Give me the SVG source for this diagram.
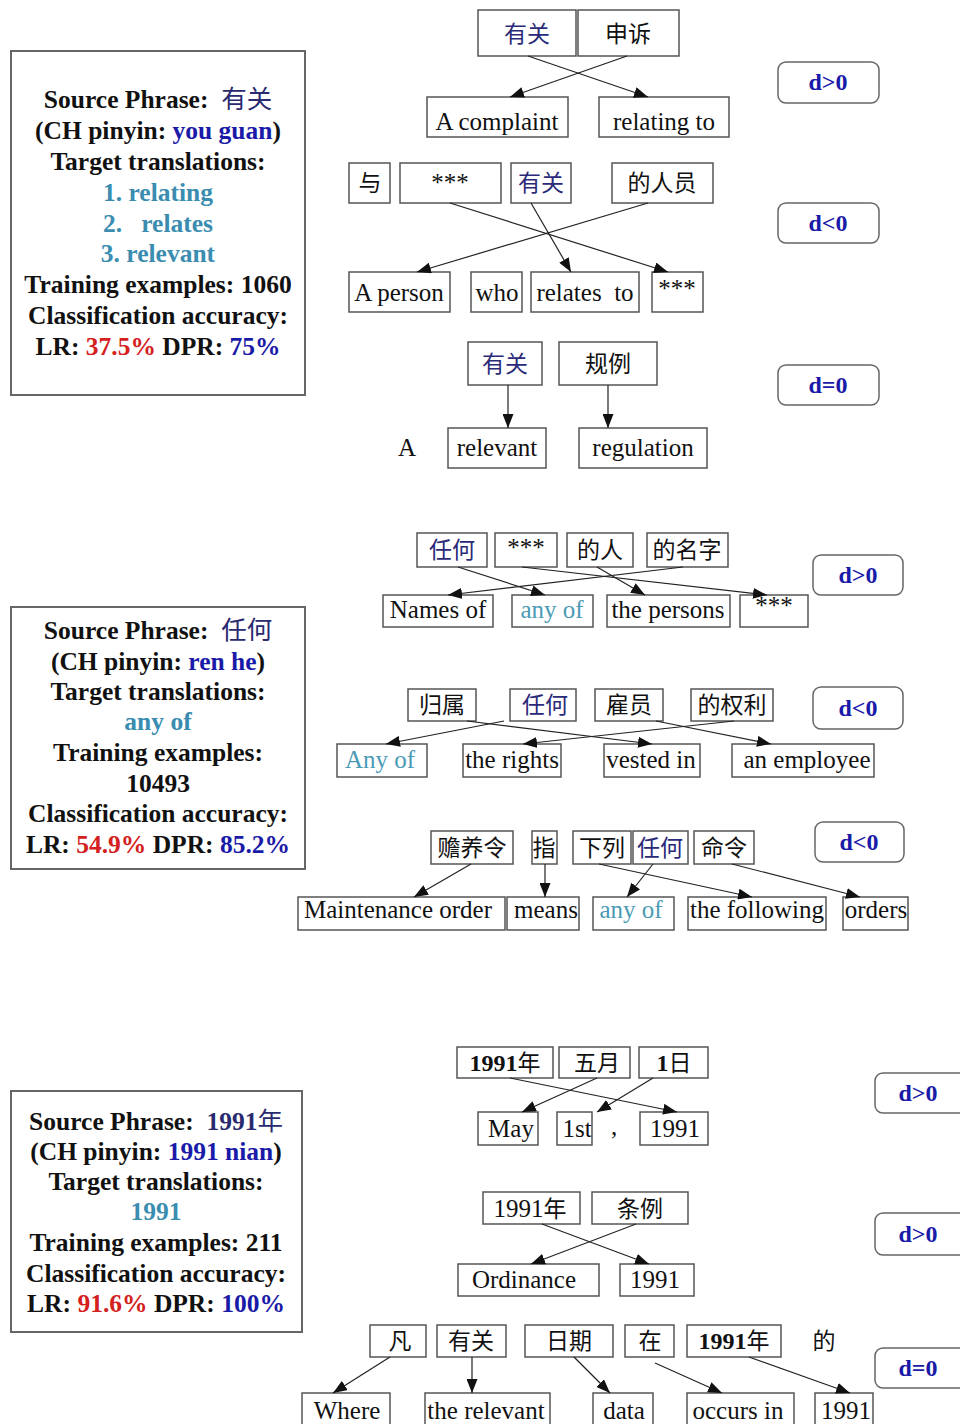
<svg xmlns="http://www.w3.org/2000/svg" width="960" height="1424" viewBox="0 0 960 1424">
<defs>
<marker id="ah" markerUnits="userSpaceOnUse" markerWidth="15" markerHeight="11" refX="14" refY="5.5" orient="auto">
<path d="M0,0 L14,5.5 L0,11 Z" fill="#111"/>
</marker>
<style>
.info{fill:#fff;stroke:#666;stroke-width:2}
.it{font-family:"Liberation Serif","Noto Sans CJK SC",serif;font-weight:bold;font-size:25.5px;text-anchor:middle;fill:#111}
.cj{font-family:"Noto Sans CJK SC",sans-serif;font-weight:normal;fill:#2a2a70}
.py{fill:#1a1aa8}
.tr{fill:#3a8db0}
.red{fill:#d42020}
.blu{fill:#1a1aa8}
.nb{fill:#fff;stroke:#555;stroke-width:1.5}
.nt{font-family:"Liberation Serif","Noto Sans CJK SC",serif;font-size:25px;text-anchor:middle;fill:#111}
.ns{font-size:24px}
.cn{font-family:"Noto Sans CJK SC",sans-serif;font-size:23px}
.nv{fill:#2a2a78}
.tl{fill:#4a9ab5}
.bd{font-weight:bold}
.db{fill:#fff;stroke:#666;stroke-width:1.5}
.dt{font-family:"Liberation Serif",serif;font-weight:bold;font-size:24px;text-anchor:middle;fill:#1a1aa8}
.ed{stroke:#222;stroke-width:1.2;fill:none;marker-end:url(#ah)}
</style>
</defs>
<rect width="960" height="1424" fill="#fff"/>

<!-- info boxes -->
<g id="info1">
<rect class="info" x="11" y="51" width="294" height="344"/>
<text class="it" x="158" y="108" xml:space="preserve">Source Phrase:  <tspan class="cj">有关</tspan></text>
<text class="it" x="158" y="139">(CH pinyin: <tspan class="py">you guan</tspan>)</text>
<text class="it" x="158" y="170">Target translations:</text>
<text class="it tr" x="158" y="201">1. relating</text>
<text class="it tr" x="158" y="232" xml:space="preserve">2.   relates</text>
<text class="it tr" x="158" y="262">3. relevant</text>
<text class="it" x="158" y="293">Training examples: 1060</text>
<text class="it" x="158" y="324">Classification accuracy:</text>
<text class="it" x="158" y="355">LR: <tspan class="red">37.5%</tspan> DPR: <tspan class="blu">75%</tspan></text>
</g>
<g id="info2">
<rect class="info" x="11" y="607" width="294" height="262"/>
<text class="it" x="158" y="639" xml:space="preserve">Source Phrase:  <tspan class="cj">任何</tspan></text>
<text class="it" x="158" y="670">(CH pinyin: <tspan class="py">ren he</tspan>)</text>
<text class="it" x="158" y="700">Target translations:</text>
<text class="it tr" x="158" y="730">any of</text>
<text class="it" x="158" y="761">Training examples:</text>
<text class="it" x="158" y="792">10493</text>
<text class="it" x="158" y="822">Classification accuracy:</text>
<text class="it" x="158" y="853">LR: <tspan class="red">54.9%</tspan> DPR: <tspan class="blu">85.2%</tspan></text>
</g>
<g id="info3">
<rect class="info" x="11" y="1091" width="291" height="241"/>
<text class="it" x="156" y="1130" xml:space="preserve">Source Phrase:  <tspan fill="#2a2a70">1991</tspan><tspan class="cj">年</tspan></text>
<text class="it" x="156" y="1160">(CH pinyin: <tspan class="py">1991 nian</tspan>)</text>
<text class="it" x="156" y="1190">Target translations:</text>
<text class="it tr" x="156" y="1220">1991</text>
<text class="it" x="156" y="1251">Training examples: 211</text>
<text class="it" x="156" y="1282">Classification accuracy:</text>
<text class="it" x="156" y="1312">LR: <tspan class="red">91.6%</tspan> DPR: <tspan class="blu">100%</tspan></text>
</g>

<!-- d labels -->
<g id="d1"><rect class="db" x="778" y="62" width="101" height="41" rx="8"/><text class="dt" x="828" y="90">d&gt;0</text></g>
<g id="d2"><rect class="db" x="778" y="203" width="101" height="40" rx="8"/><text class="dt" x="828" y="231">d&lt;0</text></g>
<g id="d3"><rect class="db" x="778" y="365" width="101" height="40" rx="8"/><text class="dt" x="828" y="393">d=0</text></g>
<g id="d4"><rect class="db" x="813" y="555" width="90" height="40" rx="8"/><text class="dt" x="858" y="583">d&gt;0</text></g>
<g id="d5"><rect class="db" x="813" y="687" width="90" height="42" rx="8"/><text class="dt" x="858" y="716">d&lt;0</text></g>
<g id="d6"><rect class="db" x="815" y="822" width="89" height="40" rx="8"/><text class="dt" x="859" y="850">d&lt;0</text></g>
<g id="d7"><rect class="db" x="875" y="1073" width="92" height="40" rx="8"/><text class="dt" x="918" y="1101">d&gt;0</text></g>
<g id="d8"><rect class="db" x="875" y="1213" width="92" height="42" rx="8"/><text class="dt" x="918" y="1242">d&gt;0</text></g>
<g id="d9"><rect class="db" x="875" y="1348" width="92" height="40" rx="8"/><text class="dt" x="918" y="1376">d=0</text></g>

<!-- Section 1a -->
<g id="a1"><rect class="nb" x="478" y="10" width="98" height="46"/><text class="nt cn nv" x="527" y="42">有关</text></g>
<g id="a2"><rect class="nb" x="578" y="10" width="101" height="46"/><text class="nt cn" x="628" y="42">申诉</text></g>
<g id="a3"><rect class="nb" x="427" y="97" width="141" height="40"/><text class="nt" x="497" y="130">A complaint</text></g>
<g id="a4"><rect class="nb" x="599" y="97" width="130" height="40"/><text class="nt" x="664" y="130">relating to</text></g>

<!-- Section 1b -->
<g id="b1"><rect class="nb" x="349" y="163" width="41" height="40"/><text class="nt cn" x="370" y="191">与</text></g>
<g id="b2"><rect class="nb" x="400" y="163" width="101" height="40"/><text class="nt" x="450" y="191">***</text></g>
<g id="b3"><rect class="nb" x="511" y="163" width="60" height="40"/><text class="nt cn nv" x="541" y="191">有关</text></g>
<g id="b4"><rect class="nb" x="612" y="163" width="101" height="40"/><text class="nt cn" x="662" y="191">的人员</text></g>
<g id="b5"><rect class="nb" x="349" y="272" width="101" height="40"/><text class="nt" x="399" y="301">A person</text></g>
<g id="b6"><rect class="nb" x="471" y="272" width="51" height="40"/><text class="nt" x="497" y="301">who</text></g>
<g id="b7"><rect class="nb" x="531" y="272" width="108" height="40"/><text class="nt" x="585" y="301" xml:space="preserve">relates  to</text></g>
<g id="b8"><rect class="nb" x="652" y="272" width="51" height="40"/><text class="nt" x="677" y="297">***</text></g>

<!-- Section 1c -->
<g id="c1"><rect class="nb" x="468" y="342" width="74" height="43"/><text class="nt cn nv" x="505" y="372">有关</text></g>
<g id="c2"><rect class="nb" x="559" y="342" width="98" height="43"/><text class="nt cn" x="608" y="372">规例</text></g>
<text class="nt" x="407" y="456">A</text>
<g id="c3"><rect class="nb" x="448" y="428" width="98" height="40"/><text class="nt" x="497" y="456">relevant</text></g>
<g id="c4"><rect class="nb" x="579" y="428" width="128" height="40"/><text class="nt" x="643" y="456">regulation</text></g>

<!-- Section 2a -->
<g id="e1"><rect class="nb" x="417" y="533" width="70" height="34"/><text class="nt cn nv" x="452" y="558">任何</text></g>
<g id="e2"><rect class="nb" x="495" y="533" width="62" height="34"/><text class="nt" x="526" y="556">***</text></g>
<g id="e3"><rect class="nb" x="567" y="533" width="66" height="34"/><text class="nt cn" x="600" y="558">的人</text></g>
<g id="e4"><rect class="nb" x="647" y="533" width="81" height="34"/><text class="nt cn" x="687" y="558">的名字</text></g>
<g id="e5"><rect class="nb" x="383" y="595" width="110" height="32"/><text class="nt" x="438" y="618">Names of</text></g>
<g id="e6"><rect class="nb" x="512" y="595" width="81" height="32"/><text class="nt tl" x="552" y="618">any of</text></g>
<g id="e7"><rect class="nb" x="607" y="595" width="123" height="32"/><text class="nt" x="668" y="618">the persons</text></g>
<g id="e8"><rect class="nb" x="740" y="595" width="68" height="32"/><text class="nt" x="774" y="614">***</text></g>

<!-- Section 2b -->
<g id="f1"><rect class="nb" x="408" y="689" width="68" height="32"/><text class="nt cn" x="442" y="713">归属</text></g>
<g id="f2"><rect class="nb" x="510" y="689" width="66" height="32"/><text class="nt cn nv" x="545" y="713">任何</text></g>
<g id="f3"><rect class="nb" x="595" y="689" width="68" height="32"/><text class="nt cn" x="629" y="713">雇员</text></g>
<g id="f4"><rect class="nb" x="691" y="689" width="82" height="32"/><text class="nt cn" x="732" y="713">的权利</text></g>
<g id="f5"><rect class="nb" x="337" y="744" width="90" height="33"/><text class="nt tl" x="380" y="768">Any of</text></g>
<g id="f6"><rect class="nb" x="463" y="744" width="98" height="33"/><text class="nt" x="512" y="768">the rights</text></g>
<g id="f7"><rect class="nb" x="604" y="744" width="96" height="33"/><text class="nt" x="651" y="768">vested in</text></g>
<g id="f8"><rect class="nb" x="732" y="744" width="142" height="33"/><text class="nt" x="807" y="768">an employee</text></g>

<!-- Section 2c -->
<g id="g1"><rect class="nb" x="431" y="831" width="82" height="33"/><text class="nt cn" x="472" y="856">赡养令</text></g>
<g id="g2"><rect class="nb" x="532" y="831" width="25" height="33"/><text class="nt cn" x="544" y="856">指</text></g>
<g id="g3"><rect class="nb" x="573" y="831" width="58" height="33"/><text class="nt cn" x="602" y="856">下列</text></g>
<g id="g4"><rect class="nb" x="633" y="831" width="55" height="33"/><text class="nt cn nv" x="660" y="856">任何</text></g>
<g id="g5"><rect class="nb" x="694" y="831" width="60" height="33"/><text class="nt cn" x="724" y="856">命令</text></g>
<g id="g6"><rect class="nb" x="298" y="897" width="207" height="33"/><text class="nt" x="398" y="918">Maintenance order</text></g>
<g id="g7"><rect class="nb" x="507" y="897" width="72" height="33"/><text class="nt" x="546" y="918">means</text></g>
<g id="g8"><rect class="nb" x="593" y="897" width="81" height="33"/><text class="nt tl" x="631" y="918">any of</text></g>
<g id="g9"><rect class="nb" x="688" y="897" width="138" height="33"/><text class="nt" x="757" y="918">the following</text></g>
<g id="g10"><rect class="nb" x="843" y="897" width="65" height="33"/><text class="nt" x="876" y="918">orders</text></g>

<!-- Section 3a -->
<g id="h1"><rect class="nb" x="457" y="1047" width="96" height="31"/><text class="nt ns" x="505" y="1071"><tspan class="bd">1991</tspan><tspan class="cn">年</tspan></text></g>
<g id="h2"><rect class="nb" x="559" y="1047" width="71" height="31"/><text class="nt cn" x="597" y="1071">五月</text></g>
<g id="h3"><rect class="nb" x="639" y="1047" width="69" height="31"/><text class="nt ns" x="674" y="1071"><tspan class="bd">1</tspan><tspan class="cn">日</tspan></text></g>
<g id="h4"><rect class="nb" x="478" y="1112" width="60" height="33"/><text class="nt" x="511" y="1137">May</text></g>
<g id="h5"><rect class="nb" x="557" y="1112" width="35" height="33"/><text class="nt" x="577" y="1137">1st</text></g>
<text class="nt" x="614" y="1135">,</text>
<g id="h6"><rect class="nb" x="640" y="1112" width="68" height="33"/><text class="nt" x="675" y="1137">1991</text></g>

<!-- Section 3b -->
<g id="k1"><rect class="nb" x="483" y="1192" width="97" height="32"/><text class="nt" x="530" y="1217">1991<tspan class="cn">年</tspan></text></g>
<g id="k2"><rect class="nb" x="592" y="1192" width="96" height="32"/><text class="nt cn" x="640" y="1217">条例</text></g>
<g id="k3"><rect class="nb" x="458" y="1264" width="141" height="32"/><text class="nt" x="524" y="1288">Ordinance</text></g>
<g id="k4"><rect class="nb" x="620" y="1264" width="74" height="32"/><text class="nt" x="655" y="1288">1991</text></g>

<!-- Section 3c -->
<g id="m1"><rect class="nb" x="370" y="1325" width="56" height="32"/><text class="nt cn" x="400" y="1349">凡</text></g>
<g id="m2"><rect class="nb" x="437" y="1325" width="69" height="32"/><text class="nt cn" x="471" y="1349">有关</text></g>
<g id="m3"><rect class="nb" x="525" y="1325" width="88" height="32"/><text class="nt cn" x="569" y="1349">日期</text></g>
<g id="m4"><rect class="nb" x="625" y="1325" width="49" height="32"/><text class="nt cn" x="650" y="1349">在</text></g>
<g id="m5"><rect class="nb" x="687" y="1325" width="94" height="32"/><text class="nt ns" x="734" y="1349"><tspan class="bd">1991</tspan><tspan class="cn">年</tspan></text></g>
<text class="nt cn" x="824" y="1349">的</text>
<g id="m6"><rect class="nb" x="302" y="1393" width="88" height="40"/><text class="nt" x="347" y="1419">Where</text></g>
<g id="m7"><rect class="nb" x="425" y="1393" width="125" height="40"/><text class="nt" x="486" y="1419">the relevant</text></g>
<g id="m8"><rect class="nb" x="593" y="1393" width="60" height="40"/><text class="nt" x="624" y="1419">data</text></g>
<g id="m9"><rect class="nb" x="687" y="1393" width="107" height="40"/><text class="nt" x="738" y="1419">occurs in</text></g>
<g id="m10"><rect class="nb" x="815" y="1393" width="58" height="40"/><text class="nt" x="846" y="1419">1991</text></g>

<!-- connectors -->
<g id="connectors">
<line class="ed" x1="528" y1="56" x2="648" y2="97"/>
<line class="ed" x1="627" y1="56" x2="510" y2="97"/>
<line class="ed" x1="450" y1="203" x2="668" y2="272"/>
<line class="ed" x1="531" y1="203" x2="571" y2="272"/>
<line class="ed" x1="648" y1="203" x2="417" y2="272"/>
<line class="ed" x1="508" y1="385" x2="508" y2="428"/>
<line class="ed" x1="608" y1="385" x2="608" y2="428"/>
<line class="ed" x1="458" y1="567" x2="545" y2="595"/>
<line class="ed" x1="522" y1="567" x2="767" y2="595"/>
<line class="ed" x1="597" y1="567" x2="645" y2="595"/>
<line class="ed" x1="683" y1="567" x2="448" y2="595"/>
<line class="ed" x1="504" y1="721" x2="386" y2="744"/>
<line class="ed" x1="467" y1="721" x2="652" y2="744"/>
<line class="ed" x1="734" y1="721" x2="523" y2="744"/>
<line class="ed" x1="656" y1="721" x2="771" y2="744"/>
<line class="ed" x1="471" y1="864" x2="414" y2="897"/>
<line class="ed" x1="545" y1="864" x2="545" y2="897"/>
<line class="ed" x1="599" y1="864" x2="752" y2="897"/>
<line class="ed" x1="653" y1="864" x2="627" y2="897"/>
<line class="ed" x1="732" y1="864" x2="860" y2="897"/>
<line class="ed" x1="510" y1="1078" x2="677" y2="1112"/>
<line class="ed" x1="597" y1="1078" x2="522" y2="1112"/>
<line class="ed" x1="653" y1="1078" x2="597" y2="1112"/>
<line class="ed" x1="542" y1="1224" x2="649" y2="1264"/>
<line class="ed" x1="636" y1="1224" x2="531" y2="1264"/>
<line class="ed" x1="390" y1="1357" x2="333" y2="1393"/>
<line class="ed" x1="472" y1="1357" x2="472" y2="1393"/>
<line class="ed" x1="574" y1="1357" x2="610" y2="1393"/>
<line class="ed" x1="655" y1="1363" x2="722" y2="1393"/>
<line class="ed" x1="749" y1="1357" x2="850" y2="1393"/>
</g>
</svg>
